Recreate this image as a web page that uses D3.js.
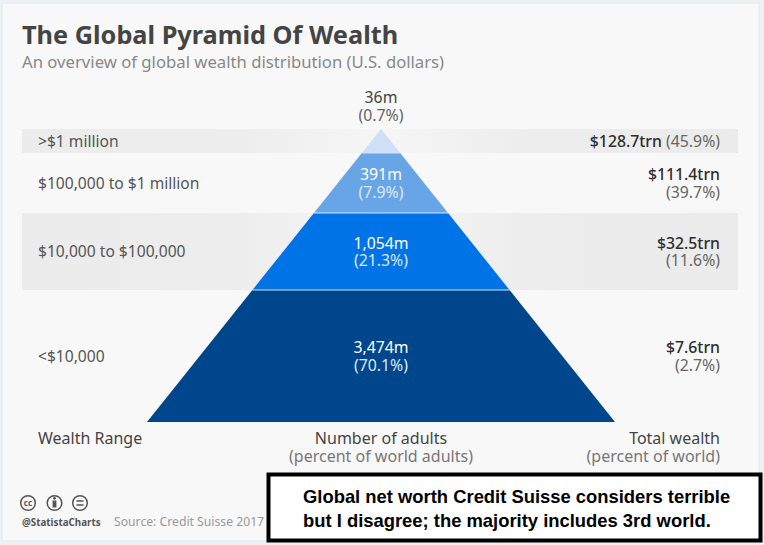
<!DOCTYPE html>
<html><head><meta charset="utf-8">
<script src="https://cdn.jsdelivr.net/npm/d3@7"></script>
<style>
html,body{margin:0;padding:0;background:#eef1f4;}
svg{display:block;font-family:"Noto Sans",sans-serif;}
</style></head>
<body><svg id="c" width="764" height="545"></svg>
<script>
// ---- data ----
const categories = [">$1 million", "$100,000 to $1 million", "$10,000 to $100,000", "<$10,000"];
const adults = ["36m", "391m", "1,054m", "3,474m"];
const adultsPct = ["(0.7%)", "(7.9%)", "(21.3%)", "(70.1%)"];
const wealth = ["$128.7trn", "$111.4trn", "$32.5trn", "$7.6trn"];
const wealthPct = ["(45.9%)", "(39.7%)", "(11.6%)", "(2.7%)"];
const headers = ["Wealth Range", "Number of adults", "Total wealth"];
const subHeaders = ["(percent of world adults)", "(percent of world)"];

// ---- layout ----
const rowWeights = [24, 60, 77, 132];
const layerColors = ["#cde0f7", "#68a5e7", "#0073e6", "#00468c"];
const svg = d3.select("#c");

const cum = [0];
rowWeights.forEach((w, i) => cum.push(cum[i] + w));
const total = cum[cum.length - 1];
const y = d3.scaleLinear().domain([0, total]).range([129, 422]);
const halfW = d3.scaleLinear().domain([0, total]).range([0, 234]);
const cx = 381;

// two-line text helper (single text element)
function twoLine(sel, x, yy, l1, l2, c1, c2, size, anchor, w1) {
  const t = sel.append("text").attr("x", x).attr("y", yy).attr("font-size", size).attr("text-anchor", anchor);
  t.append("tspan").attr("x", x).attr("fill", c1).attr("font-weight", w1 || 400).text(l1);
  t.append("tspan").attr("x", x).attr("dy", 17.5).attr("fill", c2).text(l2);
  return t;
}

// card
svg.append("rect").attr("x", 2).attr("y", 3).attr("width", 757).attr("height", 538)
  .attr("fill", "#f8f8f8").attr("stroke", "#e4e8ec").attr("stroke-width", 1);

// gradient for shaded rows
const defs = svg.append("defs");
const g = defs.append("linearGradient").attr("id", "rowGrad").attr("x1", "0").attr("x2", "1");
g.append("stop").attr("offset", "0").attr("stop-color", "#ececec");
g.append("stop").attr("offset", "0.3").attr("stop-color", "#ededed");
g.append("stop").attr("offset", "0.5").attr("stop-color", "#f6f6f6");
g.append("stop").attr("offset", "0.7").attr("stop-color", "#ededed");
g.append("stop").attr("offset", "1").attr("stop-color", "#ebebeb");

svg.append("g").selectAll("rect").data(categories).join("rect")
  .filter((d, i) => i % 2 === 0)
  .attr("x", 22).attr("width", 716)
  .attr("y", (d, i) => y(cum[i * 2]))
  .attr("height", (d, i) => y(cum[i * 2 + 1]) - y(cum[i * 2]))
  .attr("fill", "url(#rowGrad)");

// title
svg.append("text").attr("x", 22).attr("y", 44).text("The Global Pyramid Of Wealth")
  .attr("font-size", 25.3).attr("font-weight", 700).attr("fill", "#444");
svg.append("text").attr("x", 22).attr("y", 68).text("An overview of global wealth distribution (U.S. dollars)")
  .attr("font-size", 16.7).attr("fill", "#888");

// pyramid layers
svg.append("g").selectAll("path").data(categories).join("path")
  .attr("d", (d, i) => {
    const t = cum[i], b = cum[i + 1];
    return `M${cx - halfW(t)},${y(t)}L${cx + halfW(t)},${y(t)}L${cx + halfW(b)},${y(b)}L${cx - halfW(b)},${y(b)}Z`;
  })
  .attr("fill", (d, i) => layerColors[i]);
// separators
svg.append("g").selectAll("line").data(cum.slice(1, -1)).join("line")
  .attr("x1", d => cx - halfW(d)).attr("x2", d => cx + halfW(d))
  .attr("y1", d => y(d)).attr("y2", d => y(d))
  .attr("stroke", "#d6e4f4").attr("stroke-width", 1.2);

const mid = i => (y(cum[i]) + y(cum[i + 1])) / 2;

// left labels
svg.append("g").selectAll("text").data(categories).join("text")
  .attr("x", 38).attr("y", (d, i) => mid(i) + 5.5)
  .attr("font-size", 15.6).attr("fill", "#555").text(d => d);

// pyramid labels
const pl = svg.append("g");
adults.forEach((a, i) => {
  const top = i === 0;
  const yy = top ? 103 : mid(i) - 3;
  twoLine(pl, cx, yy, a, adultsPct[i], top ? "#444" : "#ffffff", top ? "#666" : "#dfe9f6", 15.8, "middle");
});

// right labels
const rl = svg.append("g");
wealth.forEach((w, i) => {
  if (i === 0) {
    const t = rl.append("text").attr("x", 720).attr("y", mid(0) + 5.5).attr("text-anchor", "end").attr("font-size", 15.8);
    t.append("tspan").attr("fill", "#2e2e2e").attr("font-weight", 500).text(w + " ");
    t.append("tspan").attr("fill", "#666").text(wealthPct[i]);
  } else {
    twoLine(rl, 720, mid(i) - 3, w, wealthPct[i], "#2e2e2e", "#666", 15.8, "end", 500);
  }
});

// headers
svg.append("text").attr("x", 38).attr("y", 444).attr("font-size", 16).attr("fill", "#444").text(headers[0]);
twoLine(svg, cx, 444, headers[1], subHeaders[0], "#444", "#777", 16, "middle");
twoLine(svg, 720, 444, headers[2], subHeaders[1], "#444", "#777", 16, "end");

// footer icons
const icons = svg.append("g").attr("fill", "none").attr("stroke", "#555").attr("stroke-width", 1.5);
[28, 54.5, 80].forEach(x => icons.append("circle").attr("cx", x).attr("cy", 503).attr("r", 7.3));
svg.append("text").attr("x", 28).attr("y", 506).attr("text-anchor", "middle").attr("font-size", 8).attr("font-weight", 700).attr("fill", "#555").text("cc");
icons.append("circle").attr("cx", 54.5).attr("cy", 498.3).attr("r", 1.4).attr("fill", "#555").attr("stroke", "none");
icons.append("rect").attr("x", 52.6).attr("y", 500.5).attr("width", 3.8).attr("height", 7).attr("fill", "#555").attr("stroke", "none");
icons.append("line").attr("x1", 76.5).attr("x2", 83.5).attr("y1", 501).attr("y2", 501);
icons.append("line").attr("x1", 76.5).attr("x2", 83.5).attr("y1", 505).attr("y2", 505);
svg.append("text").attr("x", 22).attr("y", 526).attr("font-size", 9.8).attr("font-weight", 700).attr("fill", "#555").text("@StatistaCharts");
svg.append("text").attr("x", 114).attr("y", 526).attr("font-size", 12.2).attr("fill", "#999").text("Source: Credit Suisse 2017");

// annotation box
svg.append("rect").attr("x", 268.5).attr("y", 474.5).attr("width", 492).attr("height", 66)
  .attr("fill", "#fff").attr("stroke", "#000").attr("stroke-width", 4);
const ann = svg.append("text").attr("font-family", "'Liberation Sans', Arial, sans-serif").attr("font-weight", 700).attr("font-size", 18.4).attr("fill", "#000")
  .attr("x", 303).attr("y", 503);
ann.append("tspan").attr("x", 303).text("Global net worth Credit Suisse considers terrible");
ann.append("tspan").attr("x", 303).attr("dy", 24).text("but I disagree; the majority includes 3rd world.");
</script></body></html>
